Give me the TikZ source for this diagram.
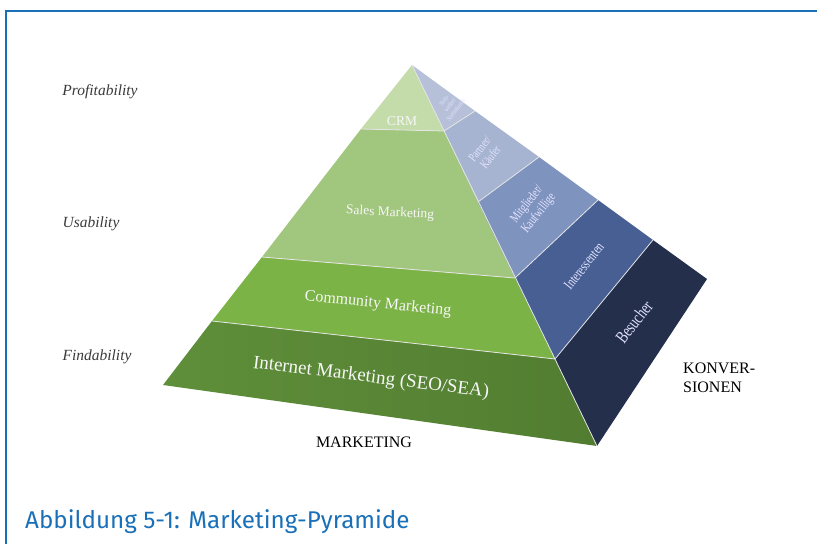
\documentclass[tikz,border=0pt]{standalone}
\usepackage{fontspec}
\setmainfont{Liberation Serif}
\newfontfamily\capfont{Fira Sans}
\definecolor{framebl}{HTML}{1A70B8}
\definecolor{gCRM}{HTML}{C4DBAA}
\definecolor{gSales}{HTML}{A1C67D}
\definecolor{gComm}{HTML}{7CB346}
\definecolor{gNetL}{HTML}{5F8F3A}
\definecolor{gNetR}{HTML}{527D31}
\definecolor{bNetz}{HTML}{B6C0D9}
\definecolor{bPart}{HTML}{A6B4D1}
\definecolor{bMitg}{HTML}{7F93BF}
\definecolor{bInt}{HTML}{475F93}
\definecolor{bBes}{HTML}{242F4C}
\definecolor{labgray}{HTML}{3A3A3A}
\begin{document}
\begin{tikzpicture}[x=1pt,y=-1pt,
  sep/.style={draw=white!80!gray, line width=0.8pt},
  greentext/.style={text=white!94!gray, inner sep=0pt, font=\fontsize{#1}{#1}\selectfont},
  bluetext/.style={text=white!90!blue, inner sep=0pt, align=center, rotate=52, xscale=0.72, transform shape},
  sidelab/.style={text=labgray, inner sep=0pt, font=\fontsize{15.5}{16}\selectfont\itshape},
  axislab/.style={text=black, inner sep=0pt, font=\fontsize{16}{19}\selectfont}]
\useasboundingbox (0,0) rectangle (817,544);
% frame
\draw[framebl, line width=2pt] (6,544) -- (6,11) -- (818,11);
% coordinates
\coordinate (A) at (412,65);
\coordinate (L) at (163,385);
\coordinate (F) at (597,446);
\coordinate (R) at (707,279);
\coordinate (M) at (555,359);
\coordinate (Lm) at (212,321);
\coordinate (Ls) at (262,257);
\coordinate (Ms) at (515,278);
\coordinate (Lc) at (361,129);
\coordinate (Mc) at (444,131);
\coordinate (T1) at (475,111);
\coordinate (Mp) at (478,202);
\coordinate (T2) at (539,157);
\coordinate (T3) at (598,200);
\coordinate (T4) at (653,240);
% green faces
\shade[left color=gNetL, right color=gNetR] (Lm) -- (M) -- (F) -- (L) -- cycle;
\fill[gComm] (Ls) -- (Ms) -- (M) -- (Lm) -- cycle;
\fill[gSales] (Lc) -- (Mc) -- (Ms) -- (Ls) -- cycle;
\fill[gCRM] (A) -- (Mc) -- (Lc) -- cycle;
% blue faces
\fill[bNetz] (A) -- (T1) -- (Mc) -- cycle;
\fill[bPart] (Mc) -- (T1) -- (T2) -- (Mp) -- cycle;
\fill[bMitg] (Mp) -- (T2) -- (T3) -- (Ms) -- cycle;
\fill[bInt] (Ms) -- (T3) -- (T4) -- (M) -- cycle;
\fill[bBes] (M) -- (T4) -- (R) -- (F) -- cycle;
% separators
\path[sep] (Lc) -- (Mc) (Ls) -- (Ms) (Lm) -- (M)
  (Mc) -- (T1) (Mp) -- (T2) (Ms) -- (T3) (M) -- (T4)
  (A) -- (M) -- (F);
% green labels
\node[greentext=13.5] (crm) at (402,121) {CRM};
\node[greentext=13.5, rotate=-3] (sales) at (390,213) {Sales Marketing};
\node[greentext=16, rotate=-6] (comm) at (378,304) {Community Marketing};
\node[greentext=19, rotate=-7] (inet) at (371,378) {Internet Marketing (SEO/SEA)};
% blue labels
\node[bluetext, font=\fontsize{7}{7.5}\selectfont] (netz) at (450,105) {Netz-\\werker/\\Stammkunde};
\node[bluetext, font=\fontsize{12.5}{13.5}\selectfont] (part) at (485,153) {Partner/\\Käufer};
\node[bluetext, font=\fontsize{13.5}{15}\selectfont] (mitg) at (533,209) {Mitglieder/\\Kaufwillige};
\node[bluetext, font=\fontsize{14.5}{15}\selectfont] (int) at (584,266) {Interessenten};
\node[bluetext, font=\fontsize{18}{18}\selectfont] (bes) at (634,322) {Besucher};
% side labels
\node[sidelab] (prof) at (100,92) {Profitability};
\node[sidelab] (usab) at (91,224) {Usability};
\node[sidelab] (find) at (97,357) {Findability};
% axis labels
\node[axislab] (mkt) at (364,442) {MARKETING};
\node[axislab, align=left, anchor=west] (konv) at (683,378) {KONVER-\\SIONEN};
% caption
\node[anchor=base west, inner sep=0pt, text=framebl, font=\capfont\fontsize{24.2}{26}\selectfont] (cap) at (25,528) {Abbildung 5-1: Marketing-Pyramide};
\end{tikzpicture}
\end{document}
